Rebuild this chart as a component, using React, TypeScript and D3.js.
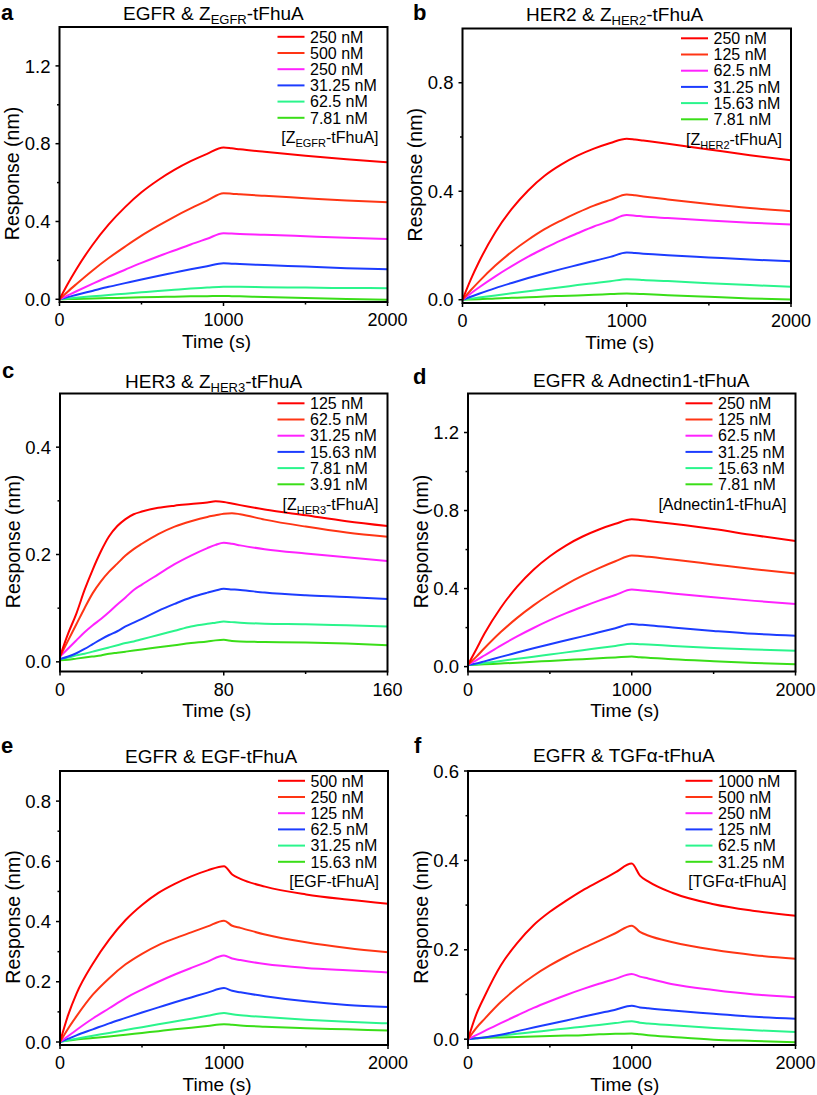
import React from "react";
import * as d3 from "d3";

// Line colours shared by every panel, highest concentration first
const lineColors = ["#ff0000", "#ff3514", "#ff22ff", "#1c3cff", "#2af58c", "#3ade18"];

// Sampling times (s)
const timeLong = [0, 50, 100, 200, 300, 400, 500, 600, 700, 800, 900, 1000, 1050, 1100, 1250, 1500, 1750, 2000];
const timeShort = [0, 4, 8, 12, 16, 20, 24, 28, 32, 36, 40, 48, 56, 64, 72, 76, 80, 84, 88, 100, 120, 140, 160];

// a: EGFR & Z_EGFR-tFhuA
const concA = ["250 nM", "500 nM", "250 nM", "31.25 nM", "62.5 nM", "7.81 nM"];
const respA = [
  [0, 0.079, 0.151, 0.278, 0.385, 0.474, 0.55, 0.612, 0.665, 0.71, 0.748, 0.78, 0.776, 0.771, 0.758, 0.738, 0.72, 0.704],
  [0, 0.039, 0.076, 0.147, 0.212, 0.271, 0.327, 0.377, 0.424, 0.467, 0.507, 0.545, 0.543, 0.54, 0.532, 0.52, 0.508, 0.499],
  [0, 0.02, 0.04, 0.079, 0.117, 0.152, 0.187, 0.22, 0.251, 0.282, 0.311, 0.34, 0.338, 0.336, 0.332, 0.324, 0.316, 0.31],
  [0, 0.011, 0.022, 0.043, 0.064, 0.083, 0.102, 0.12, 0.137, 0.154, 0.17, 0.185, 0.183, 0.181, 0.176, 0.168, 0.16, 0.154],
  [0, 0.004, 0.008, 0.015, 0.022, 0.029, 0.036, 0.043, 0.049, 0.055, 0.06, 0.065, 0.064, 0.064, 0.062, 0.06, 0.058, 0.057],
  [0, 0.001, 0.002, 0.004, 0.006, 0.008, 0.01, 0.012, 0.013, 0.015, 0.016, 0.017, 0.016, 0.015, 0.012, 0.007, 0.002, -0.002],
];

// b: HER2 & Z_HER2-tFhuA
const concB = ["250 nM", "125 nM", "62.5 nM", "31.25 nM", "15.63 nM", "7.81 nM"];
const respB = [
  [0, 0.074, 0.139, 0.249, 0.335, 0.403, 0.457, 0.498, 0.531, 0.557, 0.578, 0.594, 0.591, 0.587, 0.575, 0.554, 0.533, 0.514],
  [0, 0.035, 0.067, 0.126, 0.177, 0.221, 0.26, 0.292, 0.321, 0.347, 0.368, 0.388, 0.385, 0.381, 0.37, 0.353, 0.338, 0.326],
  [0, 0.023, 0.045, 0.086, 0.124, 0.159, 0.19, 0.219, 0.245, 0.27, 0.291, 0.312, 0.31, 0.307, 0.301, 0.292, 0.284, 0.277],
  [0, 0.011, 0.022, 0.043, 0.062, 0.08, 0.097, 0.113, 0.128, 0.143, 0.158, 0.174, 0.172, 0.17, 0.164, 0.156, 0.148, 0.142],
  [0, 0.004, 0.008, 0.016, 0.024, 0.031, 0.039, 0.046, 0.054, 0.061, 0.068, 0.076, 0.075, 0.073, 0.069, 0.061, 0.054, 0.048],
  [0, 0.001, 0.002, 0.005, 0.007, 0.009, 0.012, 0.014, 0.016, 0.018, 0.021, 0.023, 0.022, 0.021, 0.017, 0.011, 0.005, 0.001],
];

// c: HER3 & Z_HER3-tFhuA
const concC = ["125 nM", "62.5 nM", "31.25 nM", "15.63 nM", "7.81 nM", "3.91 nM"];
const respC = [
  [0.01, 0.053, 0.09, 0.134, 0.172, 0.206, 0.234, 0.253, 0.266, 0.275, 0.28, 0.287, 0.291, 0.294, 0.297, 0.299, 0.298, 0.295, 0.292, 0.284, 0.273, 0.262, 0.253],
  [0.01, 0.04, 0.07, 0.1, 0.128, 0.15, 0.168, 0.183, 0.198, 0.21, 0.22, 0.238, 0.252, 0.262, 0.27, 0.273, 0.276, 0.277, 0.275, 0.265, 0.252, 0.241, 0.233],
  [0.01, 0.025, 0.04, 0.055, 0.068, 0.08, 0.093, 0.107, 0.12, 0.134, 0.144, 0.163, 0.182, 0.198, 0.212, 0.218, 0.222, 0.22, 0.217, 0.21, 0.202, 0.195, 0.188],
  [0.005, 0.01, 0.016, 0.024, 0.033, 0.042, 0.05, 0.057, 0.066, 0.073, 0.08, 0.095, 0.108, 0.12, 0.129, 0.133, 0.136, 0.135, 0.134, 0.129, 0.124, 0.121, 0.117],
  [0.005, 0.008, 0.012, 0.015, 0.019, 0.023, 0.027, 0.031, 0.035, 0.038, 0.042, 0.05, 0.058, 0.066, 0.071, 0.073, 0.075, 0.074, 0.073, 0.071, 0.07, 0.068, 0.066],
  [0.003, 0.004, 0.006, 0.008, 0.01, 0.012, 0.015, 0.017, 0.019, 0.021, 0.023, 0.027, 0.031, 0.035, 0.038, 0.04, 0.041, 0.039, 0.038, 0.037, 0.036, 0.034, 0.031],
];

// d: EGFR & Adnectin1-tFhuA
const concD = ["250 nM", "125 nM", "62.5 nM", "31.25 nM", "15.63 nM", "7.81 nM"];
const respD = [
  [0.01, 0.088, 0.168, 0.302, 0.41, 0.497, 0.566, 0.622, 0.667, 0.703, 0.732, 0.755, 0.752, 0.747, 0.732, 0.705, 0.673, 0.644],
  [0.01, 0.05, 0.094, 0.177, 0.25, 0.314, 0.371, 0.422, 0.466, 0.505, 0.54, 0.57, 0.567, 0.563, 0.549, 0.524, 0.499, 0.477],
  [0.01, 0.032, 0.057, 0.108, 0.155, 0.198, 0.238, 0.274, 0.307, 0.338, 0.367, 0.395, 0.392, 0.388, 0.375, 0.355, 0.337, 0.321],
  [0.008, 0.016, 0.027, 0.05, 0.072, 0.094, 0.115, 0.135, 0.155, 0.176, 0.197, 0.218, 0.215, 0.212, 0.2, 0.183, 0.168, 0.158],
  [0.008, 0.012, 0.018, 0.029, 0.04, 0.051, 0.062, 0.073, 0.084, 0.095, 0.106, 0.117, 0.115, 0.113, 0.106, 0.096, 0.088, 0.081],
  [0.008, 0.01, 0.012, 0.016, 0.02, 0.025, 0.029, 0.034, 0.038, 0.043, 0.047, 0.052, 0.048, 0.046, 0.038, 0.028, 0.019, 0.012],
];

// e: EGFR & EGF-tFhuA
const concE = ["500 nM", "250 nM", "125 nM", "62.5 nM", "31.25 nM", "15.63 nM"];
const respE = [
  [0, 0.09, 0.16, 0.26, 0.34, 0.405, 0.455, 0.495, 0.525, 0.55, 0.57, 0.584, 0.556, 0.542, 0.516, 0.49, 0.473, 0.459],
  [0, 0.045, 0.085, 0.157, 0.212, 0.258, 0.293, 0.322, 0.344, 0.364, 0.384, 0.403, 0.386, 0.379, 0.357, 0.331, 0.312, 0.298],
  [0, 0.02, 0.04, 0.078, 0.112, 0.146, 0.174, 0.2, 0.224, 0.246, 0.267, 0.287, 0.277, 0.272, 0.259, 0.246, 0.238, 0.231],
  [0, 0.011, 0.022, 0.042, 0.062, 0.08, 0.098, 0.115, 0.132, 0.148, 0.164, 0.179, 0.17, 0.165, 0.152, 0.135, 0.123, 0.116],
  [0, 0.006, 0.011, 0.021, 0.03, 0.04, 0.049, 0.059, 0.068, 0.077, 0.087, 0.096, 0.092, 0.089, 0.083, 0.074, 0.067, 0.062],
  [0.002, 0.005, 0.008, 0.013, 0.018, 0.024, 0.03, 0.036, 0.042, 0.047, 0.053, 0.059, 0.057, 0.055, 0.051, 0.046, 0.042, 0.038],
];

// f: EGFR & TGFα-tFhuA
const concF = ["1000 nM", "500 nM", "250 nM", "125 nM", "62.5 nM", "31.25 nM"];
const respF = [
  [0, 0.055, 0.095, 0.165, 0.215, 0.255, 0.285, 0.31, 0.333, 0.353, 0.373, 0.393, 0.366, 0.353, 0.327, 0.302, 0.287, 0.276],
  [0, 0.025, 0.045, 0.083, 0.115, 0.142, 0.165, 0.185, 0.203, 0.22, 0.237, 0.254, 0.24, 0.232, 0.217, 0.2, 0.188, 0.18],
  [0, 0.009, 0.018, 0.036, 0.053, 0.07, 0.085, 0.099, 0.112, 0.124, 0.135, 0.146, 0.14, 0.136, 0.123, 0.11, 0.1, 0.094],
  [0, 0.002, 0.004, 0.01, 0.018, 0.026, 0.034, 0.042, 0.05, 0.058, 0.066, 0.075, 0.071, 0.069, 0.064, 0.057, 0.05, 0.046],
  [0, 0.002, 0.004, 0.008, 0.012, 0.016, 0.02, 0.024, 0.028, 0.032, 0.036, 0.04, 0.037, 0.035, 0.031, 0.025, 0.02, 0.016],
  [0.002, 0.002, 0.003, 0.004, 0.005, 0.006, 0.007, 0.008, 0.009, 0.011, 0.012, 0.013, 0.011, 0.009, 0.005, -0.001, -0.004, -0.007],
];

const FONT = "'Liberation Sans', Arial, Helvetica, sans-serif";

type Label = [string, string, string]; // text, subscript, text

type PanelSpec = {
  id: string;
  letter: string;
  letterX: number;
  letterY: number;
  title: Label;
  titleX: number;
  titleY: number;
  tag: Label;
  conc: string[];
  resp: number[][];
  time: number[];
  left: number;
  right: number;
  top: number;
  bottom: number;
  yDomain: [number, number];
  yMajor: number[];
  yMinor: number[];
  xMax: number;
  xMajor: number[];
  xMinor: number[];
};

const panels: PanelSpec[] = [
  {
    id: "a", letter: "a", letterX: 1, letterY: 20, title: ["EGFR & Z", "EGFR", "-tFhuA"], titleX: 123, titleY: 19.5,
    tag: ["[Z", "EGFR", "-tFhuA]"], conc: concA, resp: respA, time: timeLong,
    left: 59.5, right: 387.5, top: 27, bottom: 302, yDomain: [-0.014, 1.4],
    yMajor: [0, 0.4, 0.8, 1.2], yMinor: [0.2, 0.6, 1.0], xMax: 2000, xMajor: [0, 1000, 2000], xMinor: [500, 1500],
  },
  {
    id: "b", letter: "b", letterX: 413, letterY: 20, title: ["HER2 & Z", "HER2", "-tFhuA"], titleX: 526, titleY: 20.5,
    tag: ["[Z", "HER2", "-tFhuA]"], conc: concB, resp: respB, time: timeLong,
    left: 462.5, right: 791, top: 28.5, bottom: 303, yDomain: [-0.012, 1.0],
    yMajor: [0, 0.4, 0.8], yMinor: [0.2, 0.6], xMax: 2000, xMajor: [0, 1000, 2000], xMinor: [500, 1500],
  },
  {
    id: "c", letter: "c", letterX: 2, letterY: 378, title: ["HER3 & Z", "HER3", "-tFhuA"], titleX: 125, titleY: 388,
    tag: ["[Z", "HER3", "-tFhuA]"], conc: concC, resp: respC, time: timeShort,
    left: 60, right: 387.5, top: 393.5, bottom: 671.5, yDomain: [-0.018, 0.5],
    yMajor: [0, 0.2, 0.4], yMinor: [0.1, 0.3], xMax: 160, xMajor: [0, 80, 160], xMinor: [40, 120],
  },
  {
    id: "d", letter: "d", letterX: 413, letterY: 384, title: ["EGFR & Adnectin1-tFhuA", "", ""], titleX: 533, titleY: 387,
    tag: ["[Adnectin1-tFhuA]", "", ""], conc: concD, resp: respD, time: timeLong,
    left: 468, right: 795.5, top: 393.5, bottom: 671.5, yDomain: [-0.025, 1.4],
    yMajor: [0, 0.4, 0.8, 1.2], yMinor: [0.2, 0.6, 1.0], xMax: 2000, xMajor: [0, 1000, 2000], xMinor: [500, 1500],
  },
  {
    id: "e", letter: "e", letterX: 1, letterY: 753, title: ["EGFR & EGF-tFhuA", "", ""], titleX: 125, titleY: 762.5,
    tag: ["[EGF-tFhuA]", "", ""], conc: concE, resp: respE, time: timeLong,
    left: 60, right: 388, top: 771, bottom: 1045, yDomain: [-0.01, 0.9],
    yMajor: [0, 0.2, 0.4, 0.6, 0.8], yMinor: [0.1, 0.3, 0.5, 0.7], xMax: 2000, xMajor: [0, 1000, 2000], xMinor: [500, 1500],
  },
  {
    id: "f", letter: "f", letterX: 414, letterY: 753, title: ["EGFR & TGFα-tFhuA", "", ""], titleX: 533, titleY: 762,
    tag: ["[TGFα-tFhuA]", "", ""], conc: concF, resp: respF, time: timeLong,
    left: 468, right: 795.5, top: 771, bottom: 1045, yDomain: [-0.013, 0.6],
    yMajor: [0, 0.2, 0.4, 0.6], yMinor: [0.1, 0.3, 0.5], xMax: 2000, xMajor: [0, 1000, 2000], xMinor: [500, 1500],
  },
];

const fmt = d3.format(".1f");

function SubText({ label, x, y, size, subSize, anchor }: { label: Label; x: number; y: number; size: number; subSize: number; anchor?: string }) {
  const [pre, sub, post] = label;
  return (
    <text x={x} y={y} fontSize={size} textAnchor={anchor || "start"} fontFamily={FONT}>
      <tspan>{pre}</tspan>
      {sub && (
        <tspan fontSize={subSize} dy={4}>
          {sub}
        </tspan>
      )}
      {post && <tspan dy={sub ? -4 : 0}>{post}</tspan>}
    </text>
  );
}

function Panel({ p }: { p: PanelSpec }) {
  const x = d3.scaleLinear().domain([0, p.xMax]).range([p.left, p.right]);
  const y = d3.scaleLinear().domain(p.yDomain).range([p.bottom, p.top]);
  const line = d3
    .line<number>()
    .x((_, i) => x(p.time[i]))
    .y((d) => y(d))
    .curve(d3.curveMonotoneX);

  const legendTop = p.top + 9.8;
  const rowH = 16.2;

  return (
    <g>
      <defs>
        <clipPath id={`clip-${p.id}`}>
          <rect x={p.left} y={p.top} width={p.right - p.left} height={p.bottom - p.top} />
        </clipPath>
      </defs>

      {/* curves, lowest concentration drawn first */}
      <g clipPath={`url(#clip-${p.id})`}>
        {p.resp
          .map((r, i) => (
            <path key={i} d={line(r) || ""} fill="none" stroke={lineColors[i]} strokeWidth={2} strokeLinejoin="round" />
          ))
          .reverse()}
      </g>

      {/* frame */}
      <rect x={p.left} y={p.top} width={p.right - p.left} height={p.bottom - p.top} fill="none" stroke="#000" strokeWidth={2} />

      {/* y ticks */}
      {p.yMajor.map((v) => (
        <g key={`ym${v}`}>
          <line x1={p.left - 4} x2={p.left} y1={y(v)} y2={y(v)} stroke="#000" strokeWidth={1.5} />
          <text x={p.left - 9} y={y(v)} dy="0.36em" textAnchor="end" fontSize={18.5} fontFamily={FONT}>
            {fmt(v)}
          </text>
        </g>
      ))}
      {p.yMinor.map((v) => (
        <line key={`yn${v}`} x1={p.left - 2.5} x2={p.left} y1={y(v)} y2={y(v)} stroke="#000" strokeWidth={1.5} />
      ))}

      {/* x ticks */}
      {p.xMajor.map((v) => (
        <g key={`xm${v}`}>
          <line x1={x(v)} x2={x(v)} y1={p.bottom} y2={p.bottom + 4} stroke="#000" strokeWidth={1.5} />
          <text x={x(v)} y={p.bottom + 24} textAnchor="middle" fontSize={18} fontFamily={FONT}>
            {v}
          </text>
        </g>
      ))}
      {p.xMinor.map((v) => (
        <line key={`xn${v}`} x1={x(v)} x2={x(v)} y1={p.bottom} y2={p.bottom + 2.5} stroke="#000" strokeWidth={1.5} />
      ))}

      {/* axis titles */}
      <text x={(p.left + p.right) / 2 - 7} y={p.bottom + 45.5} textAnchor="middle" fontSize={19} fontFamily={FONT}>
        Time (s)
      </text>
      <text
        transform={`translate(${p.left - 47},${(p.top + p.bottom) / 2 + 9}) rotate(-90)`}
        textAnchor="middle"
        dy="0.35em"
        fontSize={19.5}
        fontFamily={FONT}
      >
        Response (nm)
      </text>

      {/* legend */}
      {p.conc.map((c, i) => (
        <g key={`lg${i}`}>
          <line
            x1={p.right - 110}
            x2={p.right - 83}
            y1={legendTop + i * rowH}
            y2={legendTop + i * rowH}
            stroke={lineColors[i]}
            strokeWidth={2}
          />
          <text x={p.right - 77.5} y={legendTop + i * rowH} dy="0.36em" fontSize={16} fontFamily={FONT}>
            {c}
          </text>
        </g>
      ))}
      <SubText label={p.tag} x={p.right - 9} y={p.top + 116} size={16} subSize={11} anchor="end" />

      {/* title and panel letter */}
      <SubText label={p.title} x={p.titleX} y={p.titleY} size={19} subSize={13} />
      <text x={p.letterX} y={p.letterY} fontSize={22} fontWeight="bold" fontFamily={FONT}>
        {p.letter}
      </text>
    </g>
  );
}

export default function App() {
  return (
    <svg
      width={817}
      height={1095}
      viewBox="0 0 817 1095"
      style={{ position: "absolute", left: 0, top: 0, background: "#fff" }}
    >
      {panels.map((p) => (
        <Panel key={p.id} p={p} />
      ))}
    </svg>
  );
}
